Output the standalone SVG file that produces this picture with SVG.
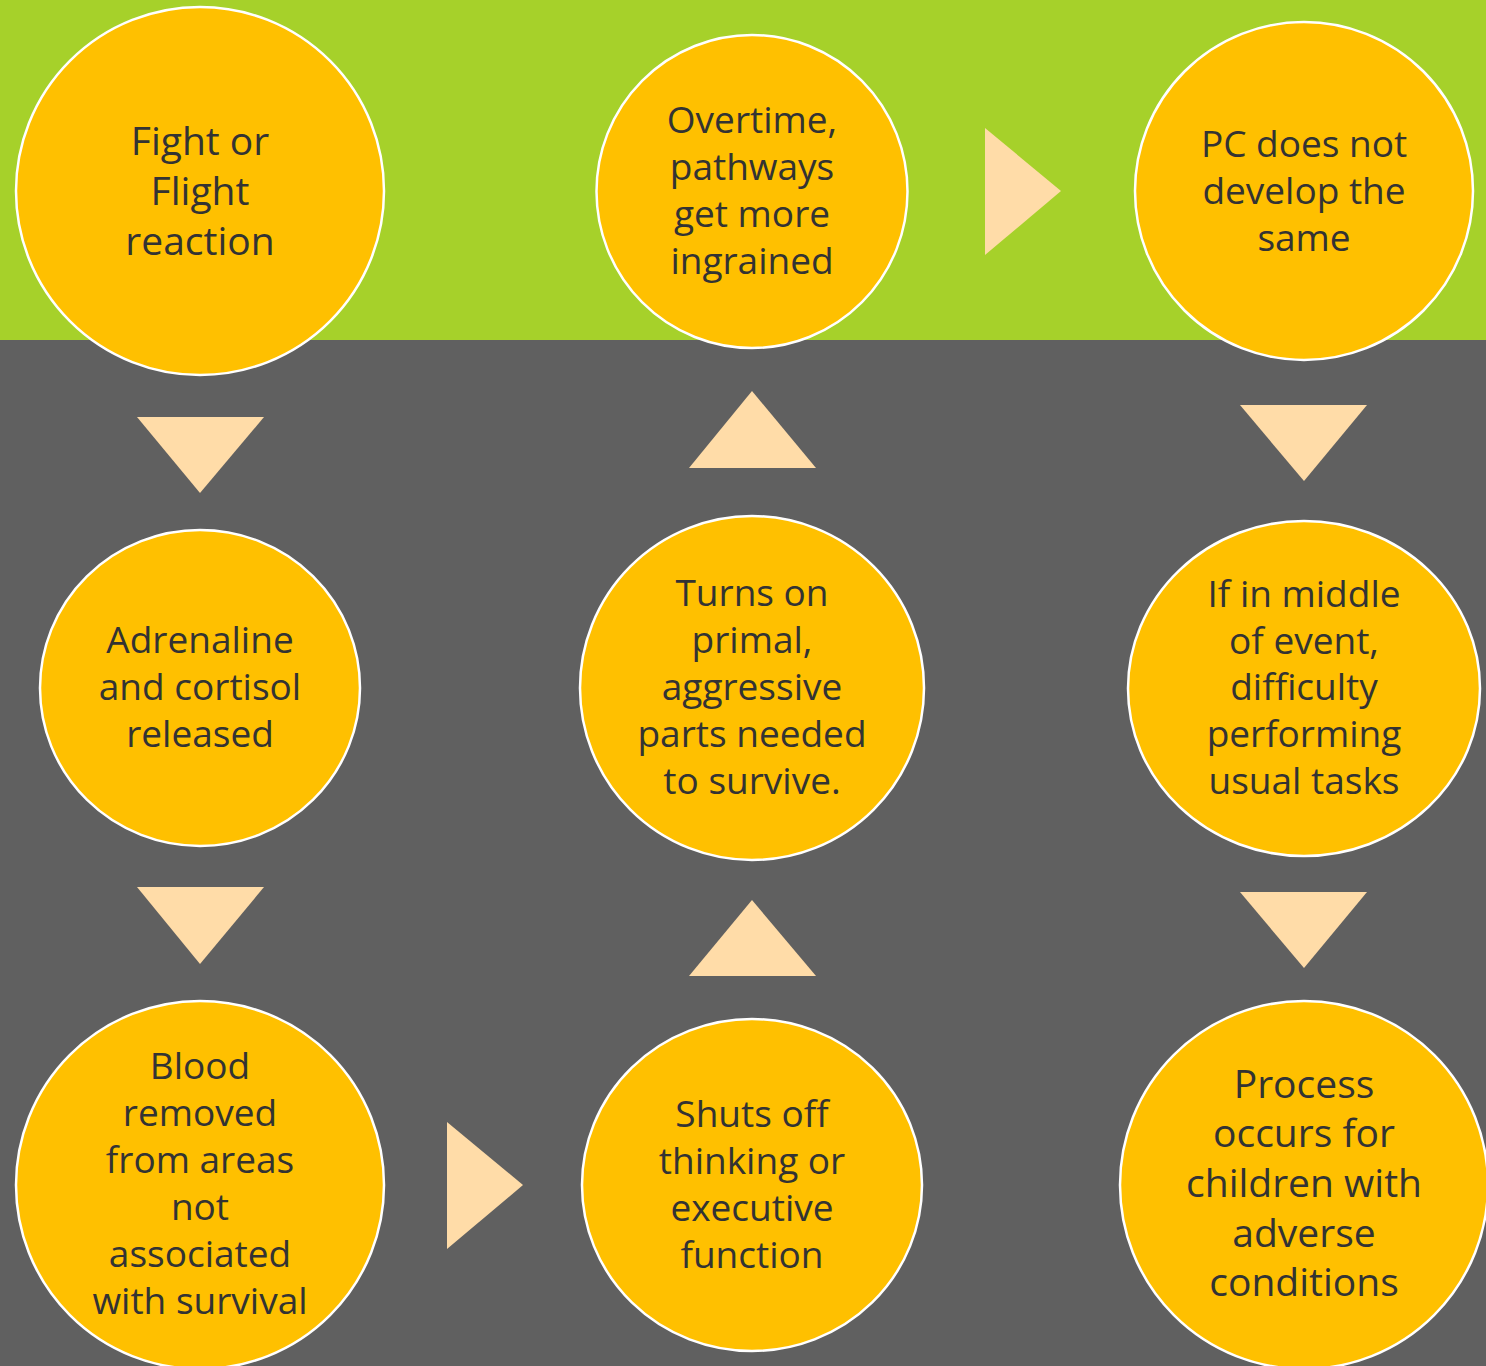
<svg xmlns="http://www.w3.org/2000/svg" width="1486" height="1366" viewBox="0 0 1486 1366">
<style>
.node{fill:#FFC000;stroke:#FFFFFF;stroke-width:2.5}
.t{font-family:"Open Sans","Noto Sans",sans-serif;font-size:37px;fill:#333333;text-anchor:middle}
.big{font-size:39px}
.arrow{fill:#FFDCA8}
</style>
<rect x="0" y="0" width="1486" height="1366" fill="#606060"/>
<rect x="0" y="0" width="1486" height="340" fill="#A6D12A"/>
<g id="connectors">
<polygon class="arrow" points="137,417 264,417 200,493"/>
<polygon class="arrow" points="137,887 264,887 200,964"/>
<polygon class="arrow" points="447,1122 447,1249 523,1185"/>
<polygon class="arrow" points="689,976 816,976 752,900"/>
<polygon class="arrow" points="689,468 816,468 752,391"/>
<polygon class="arrow" points="985,128 985,255 1061,191"/>
<polygon class="arrow" points="1240,405 1367,405 1304,481"/>
<polygon class="arrow" points="1240,892 1367,892 1304,968"/>
</g>
<g id="n1">
<ellipse class="node" cx="200" cy="191" rx="184" ry="184"/>
<text class="t big"><tspan x="200" y="155">Fight or</tspan><tspan x="200" y="205">Flight</tspan><tspan x="200" y="255">reaction</tspan></text>
</g>
<g id="n2">
<ellipse class="node" cx="200" cy="688" rx="160" ry="158"/>
<text class="t"><tspan x="200" y="653">Adrenaline</tspan><tspan x="200" y="700">and cortisol</tspan><tspan x="200" y="747">released</tspan></text>
</g>
<g id="n3">
<ellipse class="node" cx="200" cy="1185" rx="184" ry="184"/>
<text class="t"><tspan x="200" y="1079">Blood</tspan><tspan x="200" y="1126">removed</tspan><tspan x="200" y="1173">from areas</tspan><tspan x="200" y="1220">not</tspan><tspan x="200" y="1267">associated</tspan><tspan x="200" y="1314">with survival</tspan></text>
</g>
<g id="n4">
<ellipse class="node" cx="752" cy="1185" rx="170" ry="166"/>
<text class="t"><tspan x="752" y="1127">Shuts off</tspan><tspan x="752" y="1174">thinking or</tspan><tspan x="752" y="1221">executive</tspan><tspan x="752" y="1268">function</tspan></text>
</g>
<g id="n5">
<ellipse class="node" cx="752" cy="688" rx="172" ry="172"/>
<text class="t"><tspan x="752" y="606">Turns on</tspan><tspan x="752" y="653">primal,</tspan><tspan x="752" y="700">aggressive</tspan><tspan x="752" y="747">parts needed</tspan><tspan x="752" y="794">to survive.</tspan></text>
</g>
<g id="n6">
<ellipse class="node" cx="752" cy="191.5" rx="155.5" ry="156.5"/>
<text class="t"><tspan x="752" y="133">Overtime,</tspan><tspan x="752" y="180">pathways</tspan><tspan x="752" y="227">get more</tspan><tspan x="752" y="274">ingrained</tspan></text>
</g>
<g id="n7">
<ellipse class="node" cx="1304" cy="191" rx="169" ry="169"/>
<text class="t"><tspan x="1304" y="157">PC does not</tspan><tspan x="1304" y="204">develop the</tspan><tspan x="1304" y="251">same</tspan></text>
</g>
<g id="n8">
<ellipse class="node" cx="1304" cy="688.5" rx="176" ry="167.5"/>
<text class="t"><tspan x="1304" y="607">If in middle</tspan><tspan x="1304" y="654">of event,</tspan><tspan x="1304" y="700">difficulty</tspan><tspan x="1304" y="747">performing</tspan><tspan x="1304" y="794">usual tasks</tspan></text>
</g>
<g id="n9">
<ellipse class="node" cx="1304" cy="1185" rx="184" ry="184"/>
<text class="t big"><tspan x="1304" y="1098">Process</tspan><tspan x="1304" y="1147">occurs for</tspan><tspan x="1304" y="1197">children with</tspan><tspan x="1304" y="1247">adverse</tspan><tspan x="1304" y="1296">conditions</tspan></text>
</g>
</svg>
